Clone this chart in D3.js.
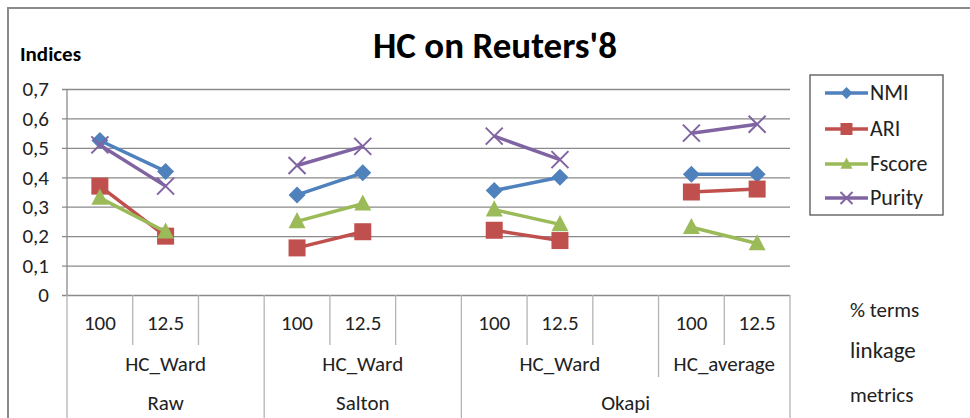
<!DOCTYPE html>
<html>
<head>
<meta charset="utf-8">
<script src="https://cdn.jsdelivr.net/npm/d3@7"></script>
<style>
  html, body { margin: 0; padding: 0; background: #fff; }
  svg { display: block; font-family: Carlito, Calibri, "Open Sans", sans-serif; }
</style>
</head>
<body>
<svg id="chart" width="970" height="418"></svg>
<script>
// ---- data ----
const termsPct = ["100", "12.5", "", "100", "12.5", "", "100", "12.5", "", "100", "12.5"];
const linkageGroups = [["HC_Ward", 0, 3], ["HC_Ward", 3, 6], ["HC_Ward", 6, 9], ["HC_average", 9, 11]];
const metricGroups = [["Raw", 0, 3], ["Salton", 3, 6], ["Okapi", 6, 11]];
const seriesNames = ["NMI", "ARI", "Fscore", "Purity"];
const nmi    = [0.525, 0.42, null, 0.34, 0.415, null, 0.355, 0.40, null, 0.41, 0.41];
const ari    = [0.37, 0.20, null, 0.16, 0.215, null, 0.22, 0.185, null, 0.35, 0.36];
const fscore = [0.33, 0.215, null, 0.25, 0.31, null, 0.29, 0.24, null, 0.23, 0.175];
const purity = [0.51, 0.37, null, 0.44, 0.505, null, 0.54, 0.46, null, 0.55, 0.58];
const yTicks = [0, 0.1, 0.2, 0.3, 0.4, 0.5, 0.6, 0.7];
const rowLabels = ["% terms", "linkage", "metrics"];

const seriesValues = [nmi, ari, fscore, purity];
const colors = ["#4F81BD", "#C0504D", "#9BBB59", "#8064A2"];
const shapes = ["diamond", "square", "triangle", "cross"];

// ---- layout ----
const svg = d3.select("#chart");
const L = 67, R = 790, T = 89, B = 295;
const x = d3.scaleBand().domain(d3.range(termsPct.length)).range([L, R]).paddingInner(0).paddingOuter(0);
const y = d3.scaleLinear().domain([0, 0.7]).range([B, T]);
const gray = "#8a8a8a", light = "#b4b4b4";
const FONT = "Carlito, Calibri, 'Open Sans', sans-serif";

// frame
svg.append("path").attr("d", "M8,418 L8,8 L970,8").attr("fill", "none").attr("stroke", gray).attr("stroke-width", 2);

// title
svg.append("text").attr("x", 495).attr("y", 58).attr("text-anchor", "middle")
  .attr("font-size", 37).attr("font-weight", "bold").attr("fill", "#000").text("HC on Reuters'8");
svg.append("text").attr("x", 20).attr("y", 61)
  .attr("font-size", 21).attr("font-weight", "bold").attr("fill", "#000").text("Indices");

// y axis + gridlines
const yAxis = d3.axisLeft(y).tickValues(yTicks).tickSize(R - 62).tickPadding(13)
  .tickFormat(d => d === 0 ? "0" : d.toFixed(1).replace(".", ","));
const gy = svg.append("g").attr("transform", `translate(${R},0)`).call(yAxis);
gy.select(".domain").remove();
gy.selectAll(".tick line").attr("stroke", gray).attr("stroke-width", 1.3);
gy.selectAll(".tick text").attr("font-size", 21).attr("fill", "#222").attr("font-family", FONT);

// vertical y axis line
svg.append("line").attr("x1", L).attr("x2", L).attr("y1", T).attr("y2", B).attr("stroke", gray).attr("stroke-width", 1.3);

// category axis lines
const cat = svg.append("g");
const edge = i => i === termsPct.length ? R : x(i);
const groupEdges = new Set([0, termsPct.length]);
metricGroups.forEach(g => { groupEdges.add(g[1]); groupEdges.add(g[2]); });
const linkEdges = new Set();
linkageGroups.forEach(g => { linkEdges.add(g[1]); linkEdges.add(g[2]); });
for (let i = 0; i <= termsPct.length; i++) {
  let y2 = 345;
  if (groupEdges.has(i)) y2 = 418;
  else if (linkEdges.has(i)) y2 = 377;
  cat.append("line").attr("x1", edge(i)).attr("x2", edge(i)).attr("y1", B).attr("y2", y2)
    .attr("stroke", light).attr("stroke-width", 1.3);
}
// term labels
termsPct.forEach((t, i) => {
  if (!t) return;
  cat.append("text").attr("x", x(i) + x.bandwidth() / 2).attr("y", 330).attr("text-anchor", "middle")
    .attr("font-size", 21).attr("fill", "#222").text(t);
});
linkageGroups.forEach(g => {
  cat.append("text").attr("x", (edge(g[1]) + edge(g[2])) / 2).attr("y", 371).attr("text-anchor", "middle")
    .attr("font-size", 21).attr("fill", "#222").text(g[0]);
});
metricGroups.forEach(g => {
  cat.append("text").attr("x", (edge(g[1]) + edge(g[2])) / 2).attr("y", 410).attr("text-anchor", "middle")
    .attr("font-size", 21).attr("fill", "#222").text(g[0]);
});
// row labels
const rowY = [317, 358, 402], rowSize = [21, 23, 21];
rowLabels.forEach((t, i) => {
  svg.append("text").attr("x", 850).attr("y", rowY[i]).attr("font-size", rowSize[i]).attr("fill", "#222").text(t);
});

// markers
function marker(g, shape, color, s) {
  if (shape === "diamond") {
    g.append("path").attr("d", `M0,${-s} L${s},0 L0,${s} L${-s},0 Z`).attr("fill", color);
  } else if (shape === "square") {
    g.append("rect").attr("x", -s).attr("y", -s).attr("width", s * 2).attr("height", s * 2).attr("fill", color);
  } else if (shape === "triangle") {
    g.append("path").attr("d", `M0,${-s * 1.1} L${s},${s * 0.8} L${-s},${s * 0.8} Z`).attr("fill", color);
  } else {
    const c = s;
    g.append("path").attr("d", `M${-c},${-c} L${c},${c} M${-c},${c} L${c},${-c}`)
      .attr("stroke", color).attr("stroke-width", 2).attr("fill", "none");
  }
}

// series
const line = d3.line().defined(d => d.v != null).x(d => x(d.i) + x.bandwidth() / 2).y(d => y(d.v));
seriesValues.forEach((vals, k) => {
  const pts = vals.map((v, i) => ({ i, v }));
  svg.append("path").datum(pts).attr("d", line).attr("fill", "none")
    .attr("stroke", colors[k]).attr("stroke-width", 3.5).attr("stroke-linejoin", "round");
  pts.filter(d => d.v != null).forEach(d => {
    const g = svg.append("g").attr("transform", `translate(${x(d.i) + x.bandwidth() / 2},${y(d.v)})`);
    marker(g, shapes[k], colors[k], 8.5);
  });
});

// legend
const lg = svg.append("g");
lg.append("rect").attr("x", 810).attr("y", 75).attr("width", 133).attr("height", 140)
  .attr("fill", "#fff").attr("stroke", "#555").attr("stroke-width", 1.3);
const legY = [93, 129, 164, 198];
seriesNames.forEach((n, k) => {
  lg.append("line").attr("x1", 825).attr("x2", 868).attr("y1", legY[k]).attr("y2", legY[k])
    .attr("stroke", colors[k]).attr("stroke-width", 3.5);
  const g = lg.append("g").attr("transform", `translate(846.5,${legY[k]})`);
  marker(g, shapes[k], colors[k], 6);
  lg.append("text").attr("x", 870).attr("y", legY[k] + 7).attr("font-size", 22).attr("fill", "#222").text(n);
});
</script>
</body>
</html>
